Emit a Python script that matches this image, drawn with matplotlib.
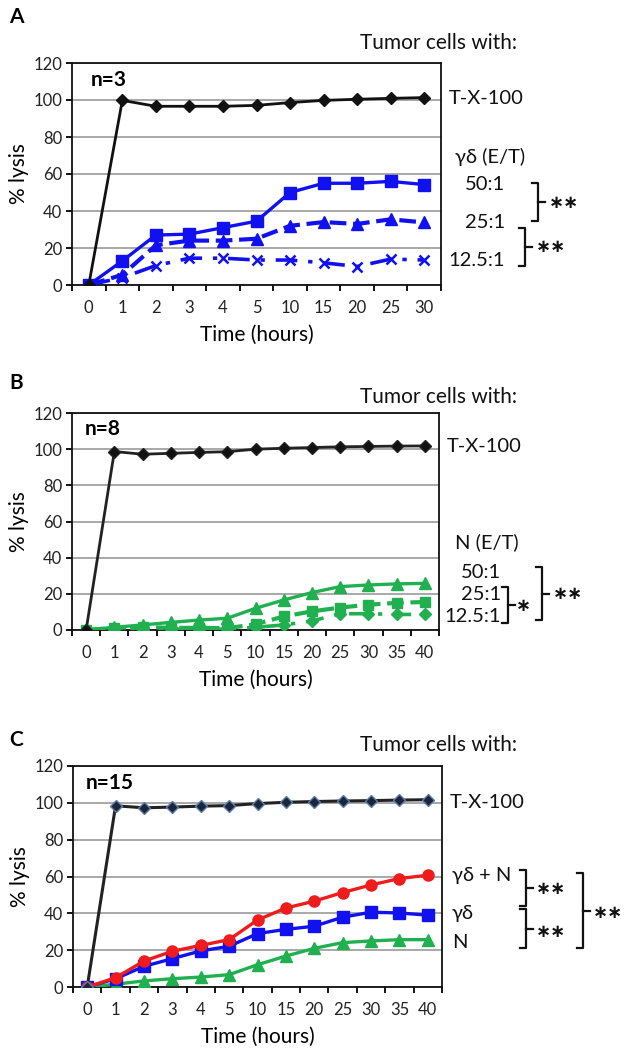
import matplotlib
matplotlib.use("Agg")
import matplotlib.pyplot as plt
import numpy as np

plt.rcParams['font.family'] = ['Lato', 'DejaVu Sans']

# ---------------- data ----------------
times_a = ["0", "1", "2", "3", "4", "5", "10", "15", "20", "25", "30"]
txa = [0, 99.8, 96.6, 96.6, 96.6, 97.1, 98.6, 99.8, 100.4, 100.9, 101.3]
gd50 = [0, 13, 27, 27.5, 31, 34.5, 50, 55, 55, 56, 54.3]
gd25 = [0, 5.5, 21.5, 24, 24, 25, 32, 34, 33, 35.5, 33.8]
gd12 = [0, 4, 10.5, 14.5, 14.5, 13.5, 13.5, 12, 10, 14, 13.5]

times_bc = ["0", "1", "2", "3", "4", "5", "10", "15", "20", "25", "30", "35", "40"]
txb = [0, 98.7, 97.2, 97.7, 98.2, 98.6, 100, 100.5, 100.9, 101.3, 101.5, 101.7, 101.8]
n50 = [0, 1.5, 2.8, 4.2, 5.5, 6.5, 12, 16.6, 20.7, 24, 24.9, 25.5, 25.8]
n25 = [0, 1.2, 1.6, 1.2, 1.2, 1.0, 3.2, 7.5, 10.3, 12.4, 14, 15, 15.5]
n12 = [0, 0.5, 1, 0.5, 0.5, 0.5, 1.5, 2.8, 5, 9, 9, 8.6, 8.6]

txc = [0, 98.4, 97.3, 97.7, 98.2, 98.5, 99.6, 100.3, 100.7, 101, 101.2, 101.5, 101.7]
gdn = [0, 5, 14.1, 19.4, 22.6, 25.7, 36.4, 42.9, 46.6, 51.3, 55.4, 58.9, 60.7]
gd = [0, 4.5, 11.2, 15.4, 19.6, 22.1, 29, 31.3, 33, 37.9, 40.6, 40.2, 39]
nn = [0, 1.5, 3.3, 4.5, 5.4, 6.7, 12.1, 16.8, 21, 24.1, 25, 25.7, 25.7]

yticks = [0, 20, 40, 60, 80, 100, 120]

W, H = 630, 1053
fig = plt.figure(figsize=(W / 100, H / 100), dpi=100)

BLUE = '#1010f0'
GREEN = '#20b050'
RED = '#ee1c1c'


def make_ax(left, right, top, bottom, labels):
    ax = fig.add_axes([left / W, 1 - bottom / H, (right - left) / W, (bottom - top) / H])
    n = len(labels)
    ax.set_xlim(-0.5, n - 0.5)
    ax.set_ylim(0, 120)
    ax.set_yticks(yticks)
    ax.set_yticklabels([str(v) for v in yticks], fontsize=12, color='#222222')
    ax.set_xticks(np.arange(n))
    ax.set_xticklabels(labels, fontsize=12, color='#222222')
    ax.set_xticks(np.arange(n + 1) - 0.5, minor=True)
    ax.tick_params(axis='x', which='major', length=0, pad=11)
    ax.tick_params(axis='x', which='minor', length=4, width=1.3, direction='out')
    ax.tick_params(axis='y', which='major', length=4, width=1.3, direction='out', pad=3)
    ax.grid(axis='y', color='#9a9a9a', lw=1.2)
    ax.set_axisbelow(True)
    for s in ax.spines.values():
        s.set_color('#111111')
        s.set_linewidth(1.3)
    ax.set_ylabel('% lysis', fontsize=15, labelpad=3)
    ax.set_xlabel('Time (hours)', fontsize=15, labelpad=6)
    return ax


# ---------- Panel A ----------
axA = make_ax(72, 441, 63, 285, times_a)
xa = np.arange(len(times_a))
axA.plot(xa, txa, color='#111111', lw=2, marker='D', ms=6, mfc='#111111', zorder=5)
axA.plot(xa, gd12, color=BLUE, lw=2.6, dashes=(6, 3, 1.2, 3), marker='x', ms=7, mew=1.8, zorder=4)
axA.plot(xa, gd25, color=BLUE, lw=3, dashes=(4, 1.6), marker='^', ms=8, zorder=4)
axA.plot(xa, gd50, color=BLUE, lw=2.4, marker='s', ms=8, zorder=4)
axA.text(0.05, 111, 'n=3', fontsize=15, fontweight='bold', va='center', ha='left')

# ---------- Panel B ----------
axB = make_ax(72, 439, 413, 630, times_bc)
xb = np.arange(len(times_bc))
axB.plot(xb, txb, color='#222222', lw=2, marker='D', ms=6, mfc='#111111', zorder=5)
axB.plot(xb, n12, color=GREEN, lw=2.6, dashes=(5, 3, 1.2, 3), marker='D', ms=6, zorder=3)
axB.plot(xb, n25, color=GREEN, lw=3, dashes=(4, 1.6), marker='s', ms=7, zorder=3)
axB.plot(xb, n50, color=GREEN, lw=2.4, marker='^', ms=8, zorder=4)
axB.text(-0.05, 111, 'n=8', fontsize=15, fontweight='bold', va='center', ha='left')

# ---------- Panel C ----------
axC = make_ax(73, 442, 766, 987, times_bc)
axC.plot(xb, txc, color='#222222', lw=2.2, marker='D', ms=6, mfc='#1d2538', mec='#5a7db0', mew=1, zorder=5)
axC.plot(xb, nn, color=GREEN, lw=2.4, marker='^', ms=8, zorder=3)
axC.plot(xb, gd, color=BLUE, lw=2.4, marker='s', ms=8, zorder=4)
axC.plot(xb, gdn, color=RED, lw=2.4, marker='o', ms=8, zorder=4)
axC.text(-0.05, 111, 'n=15', fontsize=15, fontweight='bold', va='center', ha='left')

# ---------- overlay for annotations (pixel coordinates) ----------
ov = fig.add_axes([0, 0, 1, 1], zorder=-1)
ov.set_xlim(0, W)
ov.set_ylim(H, 0)
ov.axis('off')

TXT = dict(fontsize=14.5, color='#111111', va='center')


def bracket(x, y0, y1, arm=6, tick=7, lw=1.6):
    ov.plot([x - arm, x, x, x - arm], [y0, y0, y1, y1], color='#111111', lw=lw,
            solid_joinstyle='round')
    ym = (y0 + y1) / 2
    ov.plot([x, x + tick], [ym, ym], color='#111111', lw=lw)


def stars(x, y, n=2):
    ov.text(x, y, '\u2217' * n, fontsize=13, fontweight='bold', ha='left',
            va='center', family=['DejaVu Sans'], color='#111111')


# Panel labels
for lab, y in [('A', 17), ('B', 383), ('C', 740)]:
    ov.text(9, y, lab, fontsize=15, fontweight='bold', ha='left', va='center')

# Panel A annotations
ov.text(517, 43, 'Tumor cells with:', ha='right', **{**TXT, 'fontsize': 15})
ov.text(449, 99, 'T-X-100', ha='left', **TXT)
ov.text(455, 157, 'γδ (E/T)', ha='left', **TXT)
ov.text(505, 184, '50:1', ha='right', **TXT)
ov.text(505, 223, '25:1', ha='right', **TXT)
ov.text(505, 261, '12.5:1', ha='right', **TXT)
bracket(538, 183, 221)
stars(549, 203)
bracket(525, 228, 266)
stars(536, 247)

# Panel B annotations
ov.text(517, 397, 'Tumor cells with:', ha='right', **{**TXT, 'fontsize': 15})
ov.text(447, 447, 'T-X-100', ha='left', **TXT)
ov.text(455, 542, 'N (E/T)', ha='left', **TXT)
ov.text(501, 572, '50:1', ha='right', **TXT)
ov.text(501, 594, '25:1', ha='right', **TXT)
ov.text(501, 616, '12.5:1', ha='right', **TXT)
bracket(508, 587, 623)
stars(516, 606, 1)
bracket(542, 567, 620)
stars(553, 594)

# Panel C annotations
ov.text(517, 745, 'Tumor cells with:', ha='right', **{**TXT, 'fontsize': 15})
ov.text(450, 802, 'T-X-100', ha='left', **TXT)
ov.text(452, 875, 'γδ + N', ha='left', **TXT)
ov.text(452, 913, 'γδ', ha='left', **TXT)
ov.text(452, 943, 'N', ha='left', **TXT)
bracket(526, 870, 906)
stars(536, 889)
bracket(526, 909, 948)
stars(536, 932)
bracket(583, 873, 948)
stars(593, 913)

fig.savefig('out.png', dpi=100)
